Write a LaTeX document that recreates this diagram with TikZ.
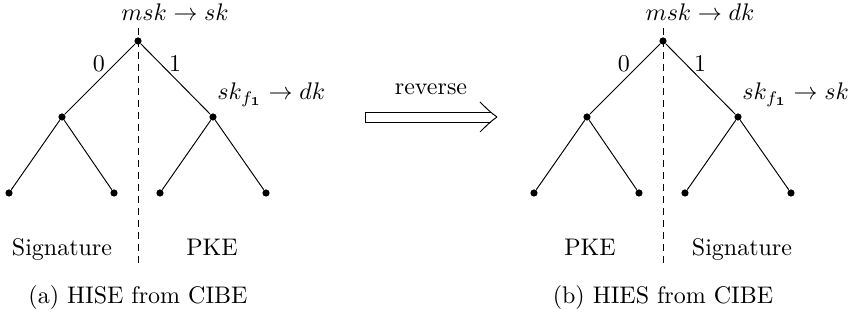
\documentclass[tikz,border=0pt]{standalone}
\usetikzlibrary{arrows.meta}

\begin{document}
\begin{tikzpicture}[x=0.4167pt, y=-0.4167pt,
        dot/.style={circle, fill, inner sep=0pt, minimum size=3pt},
        lbl/.style={inner sep=0pt},
        split/.style={dash pattern=on 3pt off 2pt}]
        \useasboundingbox (0,0) rectangle (860,323);
        % the two trees, (a) on the left and (b) on the right
        \foreach \o/\t in {0/a, 525/b} {
            \node[dot] (\t-r) at (138+\o,41) {};
            \node[dot] (\t-0) at (62+\o,117) {};
            \node[dot] (\t-1) at (213+\o,117) {};
            \node[dot] (\t-00) at (9+\o,193) {};
            \node[dot] (\t-01) at (114+\o,193) {};
            \node[dot] (\t-10) at (160+\o,193) {};
            \node[dot] (\t-11) at (266+\o,193) {};
            \draw (\t-r) -- (\t-0) (\t-r) -- (\t-1);
            \draw (\t-0) -- (\t-00) (\t-0) -- (\t-01);
            \draw (\t-1) -- (\t-10) (\t-1) -- (\t-11);
            \coordinate (\t-top) at (138+\o,28);
            \coordinate (\t-bot) at (138+\o,265);
            \draw[split] (\t-top) -- (\t-bot);
            \node[lbl, anchor=base] (\t-l0) at (99+\o,72) {$0$};
            \node[lbl, anchor=base] (\t-l1) at (175+\o,72) {$1$};
        }
        \node[lbl, anchor=base] (a-msk) at (175,21) {$msk \rightarrow sk$};
        \node[lbl, anchor=base west] (a-skf) at (217,100) {$sk_{f_{\mathbf{1}}} \rightarrow dk$};
        \node[lbl, anchor=base] (a-sig) at (62,256) {Signature};
        \node[lbl, anchor=base] (a-pke) at (212,256) {PKE};
        \node[lbl, anchor=base] (a-cap) at (138,304) {(a) HISE from CIBE};

        \node[lbl, anchor=base] (b-msk) at (700,21) {$msk \rightarrow dk$};
        \node[lbl, anchor=base west] (b-skf) at (742,100) {$sk_{f_{\mathbf{1}}} \rightarrow sk$};
        \node[lbl, anchor=base] (b-pke) at (590,256) {PKE};
        \node[lbl, anchor=base] (b-sig) at (742,256) {Signature};
        \node[lbl, anchor=base] (b-cap) at (663,304) {(b) HIES from CIBE};

        % reverse arrow, open head drawn by hand
        \coordinate (rs) at (365,117);
        \coordinate (re) at (497,117);
        \draw (491,112) -- (365,112) -- (365,122) -- (491,122);
        \draw (re) .. controls (491,113) and (485,107) .. (480,102);
        \draw (re) .. controls (491,121) and (485,127) .. (480,132);
        \node[lbl, anchor=base] (rev) at (431,95) {reverse};
    \end{tikzpicture}
\end{document}
